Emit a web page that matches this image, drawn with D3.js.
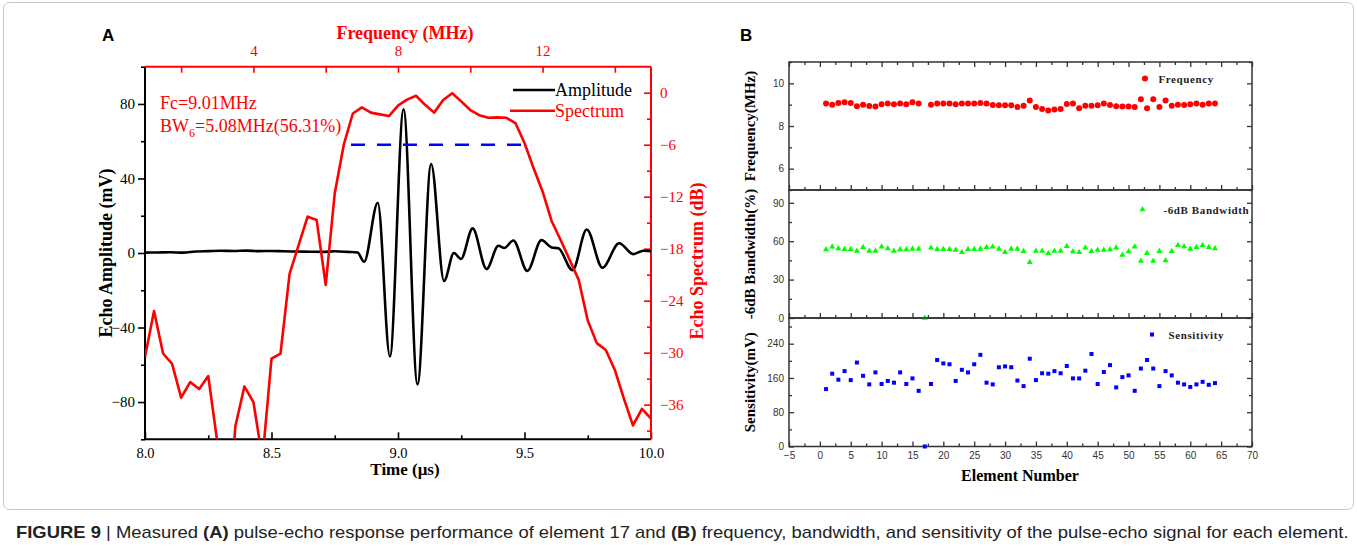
<!DOCTYPE html>
<html>
<head>
<meta charset="utf-8">
<script src="https://cdn.jsdelivr.net/npm/d3@7"></script>
<style>
  body { margin: 0; background: #fff; }
  svg { display: block; }
</style>
</head>
<body>
<script>
// ---- panel A data ----
let specFreq = [1, 1.25, 1.5, 1.75, 2, 2.25, 2.5, 2.75, 3, 3.25, 3.5, 3.75, 4, 4.25, 4.5, 4.75,
                5, 5.25, 5.5, 5.75, 6, 6.25, 6.5, 6.75, 7, 7.25, 7.5, 7.75, 8, 8.25, 8.5, 8.75,
                9, 9.25, 9.5, 9.75, 10, 10.25, 10.5, 10.75, 11, 11.25, 11.5, 11.75, 12, 12.25,
                12.5, 12.75, 13, 13.25, 13.5, 13.75, 14, 14.25, 14.5, 14.75, 15];
let specDb = [-30.5, -25.2, -30.1, -31.3, -35.2, -33.4, -34.2, -32.7, -40.3, -53, -38.5, -33.9,
              -35.7, -42.3, -30.7, -30.1, -20.9, -17.6, -14.3, -14.7, -22.2, -11.6, -6.0, -2.4,
              -1.7, -2.3, -2.5, -2.7, -1.5, -0.8, -0.35, -1.4, -2.3, -0.85, -0.07, -1.0, -2.0,
              -2.6, -2.9, -2.85, -2.9, -3.5, -5.8, -8.7, -11.4, -14.8, -17.0, -19.3, -21.6,
              -26.3, -28.9, -29.7, -32.0, -35.3, -38.4, -36.5, -37.6];

let echoTime = [8.0, 8.05, 8.1, 8.15, 8.2, 8.25, 8.3, 8.35, 8.4, 8.45, 8.5, 8.55, 8.6, 8.65, 8.7,
                8.75, 8.8, 8.84, 8.866, 8.92, 8.968, 9.022, 9.077, 9.131, 9.182, 9.221, 9.249,
                9.295, 9.35, 9.397, 9.42, 9.456, 9.511, 9.567, 9.607, 9.634, 9.69, 9.746, 9.808,
                9.874, 9.93, 9.97, 10.0];
let echoAmp = [0.2, 0.3, 0.4, 0.2, 0.8, 1.0, 1.2, 1.1, 1.3, 1.0, 1.1, 0.9, 0.8, 0.7, 0.6,
               0.9, 0.6, 0.3, -4.7, 27.0, -55.5, 77.2, -70.5, 47.8, -15.0, 0.0, -3.2,
               13.2, -8.6, 3.9, 2.7, 6.7, -9.6, 6.9, 3.0, 2.5, -9.2, 12.6, -7.9,
               5.2, -0.6, 1.2, 1.0];

let bwLine = [6.7, 11.5];   // -6 dB band edges (MHz)
let bwLevel = -6;

// ---- panel B data ----
let elements = [1, 2, 3, 4, 5, 6, 7, 8, 9, 10, 11, 12, 13, 14, 15, 16, 17, 18, 19, 20, 21, 22,
                23, 24, 25, 26, 27, 28, 29, 30, 31, 32, 33, 34, 35, 36, 37, 38, 39, 40, 41, 42,
                43, 44, 45, 46, 47, 48, 49, 50, 51, 52, 53, 54, 55, 56, 57, 58, 59, 60, 61, 62,
                63, 64];
let frequency = [9.06, 9.0, 9.08, 9.11, 9.08, 8.92, 9.0, 8.94, 8.91, 9.02, 9.05, 9.02, 9.06,
                 9.02, 9.11, 9.05, null, 9.0, 9.05, 9.05, 9.05, 9.02, 9.05, 9.05, 9.05, 9.08,
                 9.06, 8.98, 8.97, 8.97, 8.97, 8.89, 8.95, 9.2, 8.89, 8.8, 8.73, 8.77, 8.8, 9.03,
                 9.05, 8.83, 8.95, 8.95, 8.97, 9.06, 8.98, 8.92, 8.91, 8.91, 8.89, 9.25, 8.83,
                 9.25, 8.89, 9.2, 8.95, 9.0, 8.98, 9.02, 9.06, 9.0, 9.05, 9.05];
let bandwidth = [53.5, 55.6, 54.3, 53.7, 53.7, 52.4, 55.3, 52.4, 52.4, 55.6, 54.3, 52.4, 53.5,
                 53.5, 54.0, 54.0, 0, 54.8, 53.7, 53.7, 53.7, 53.2, 51.4, 53.7, 53.7, 54.0,
                 55.3, 55.6, 54.0, 51.4, 54.0, 54.0, 52.2, 43.6, 52.4, 52.4, 50.6, 52.4, 52.4,
                 56.1, 51.9, 51.4, 54.8, 52.2, 53.2, 53.2, 53.5, 54.8, 49.3, 51.9, 55.6, 44.6,
                 50.6, 44.6, 52.2, 44.9, 52.2, 56.9, 55.8, 54.0, 55.3, 56.9, 55.3, 54.3];
let sensitivity = [134, 170, 156, 176, 155, 196, 165, 145, 173, 146, 153, 149, 173, 146, 159,
                   130, 0, 146, 202, 194, 192, 153, 179, 173, 192, 214, 149, 145, 185, 187,
                   185, 154, 141, 205, 155, 171, 170, 176, 171, 188, 159, 159, 177, 216, 146,
                   174, 190, 138, 162, 166, 130, 182, 202, 182, 141, 176, 166, 149, 145, 139,
                   145, 151, 144, 148];

let W = 1357, H = 546;
let serif = '"Liberation Serif", "Times New Roman", serif';
let sans = '"Liberation Sans", Arial, sans-serif';

let svg = d3.select('body').append('svg')
            .attr('width', W)
            .attr('height', H)
            .attr('viewBox', `0 0 ${W} ${H}`);

svg.append('rect').attr('width', W).attr('height', H).attr('fill', '#fff');
svg.append('rect')
   .attr('x', 3.5).attr('y', 2.5).attr('width', W - 7).attr('height', 507)
   .attr('rx', 6).attr('fill', 'none').attr('stroke', '#c8c8c8').attr('stroke-width', 1);

// ================= Panel A =================
let A = { left: 145, right: 651, top: 66.7, bottom: 439.3 };

let xTime = d3.scaleLinear().domain([8, 10]).range([A.left, A.right]);
let xFreq = d3.scaleLinear().domain([1, 15]).range([A.left, A.right]);
let yAmp = d3.scaleLinear().domain([-100, 100]).range([A.bottom, A.top]);
let yDb = d3.scaleLinear().domain([-40, 3]).range([A.bottom, A.top]);

let gA = svg.append('g');

gA.append('clipPath').attr('id', 'clipA')
  .append('rect')
  .attr('x', A.left).attr('y', A.top)
  .attr('width', A.right - A.left).attr('height', A.bottom - A.top);

function styleAxis(g, color, size) {
  g.select('.domain').remove();
  g.selectAll('line').attr('stroke', color).attr('stroke-width', 1.6);
  g.selectAll('text').attr('fill', color).attr('font-family', serif).attr('font-size', size);
}

// bottom (time)
gA.append('g').attr('transform', `translate(0,${A.bottom})`)
  .call(d3.axisBottom(xTime).tickValues([8.25, 8.75, 9.25, 9.75]).tickSize(-4).tickFormat(''))
  .call(g => styleAxis(g, '#000', 15));
gA.append('g').attr('transform', `translate(0,${A.bottom})`)
  .call(d3.axisBottom(xTime).tickValues([8, 8.5, 9, 9.5, 10]).tickSize(-7).tickPadding(8)
          .tickFormat(d3.format('.1f')))
  .call(g => styleAxis(g, '#000', 14.5));

// left (amplitude)
gA.append('g').attr('transform', `translate(${A.left},0)`)
  .call(d3.axisLeft(yAmp).tickValues([-100, -60, -20, 20, 60, 100]).tickSize(4).tickFormat(''))
  .call(g => styleAxis(g, '#000', 15));
gA.append('g').attr('transform', `translate(${A.left},0)`)
  .call(d3.axisLeft(yAmp).tickValues([-80, -40, 0, 40, 80]).tickSize(7).tickPadding(3))
  .call(g => styleAxis(g, '#000', 15));

// top (frequency)
gA.append('g').attr('transform', `translate(0,${A.top})`)
  .call(d3.axisTop(xFreq).tickValues([2, 6, 10, 14]).tickSize(-6).tickFormat(''))
  .call(g => styleAxis(g, '#ff0000', 15));
gA.append('g').attr('transform', `translate(0,${A.top})`)
  .call(d3.axisTop(xFreq).tickValues([4, 8, 12]).tickSize(-6).tickPadding(11))
  .call(g => styleAxis(g, '#ff0000', 15));

// right (spectrum dB)
gA.append('g').attr('transform', `translate(${A.right},0)`)
  .call(d3.axisRight(yDb).tickValues([-39, -33, -27, -21, -15, -9, -3]).tickSize(-4).tickFormat(''))
  .call(g => styleAxis(g, '#ff0000', 15));
gA.append('g').attr('transform', `translate(${A.right},0)`)
  .call(d3.axisRight(yDb).tickValues([0, -6, -12, -18, -24, -30, -36]).tickSize(-7).tickPadding(9))
  .call(g => styleAxis(g, '#ff0000', 15));

// frame lines
gA.append('line').attr('x1', A.left).attr('x2', A.right).attr('y1', A.bottom).attr('y2', A.bottom)
  .attr('stroke', '#000').attr('stroke-width', 2);
gA.append('line').attr('x1', A.left).attr('x2', A.left).attr('y1', A.top).attr('y2', A.bottom)
  .attr('stroke', '#000').attr('stroke-width', 2);
gA.append('line').attr('x1', A.left).attr('x2', A.right).attr('y1', A.top).attr('y2', A.top)
  .attr('stroke', '#ff0000').attr('stroke-width', 2);
gA.append('line').attr('x1', A.right).attr('x2', A.right).attr('y1', A.top).attr('y2', A.bottom)
  .attr('stroke', '#ff0000').attr('stroke-width', 2);

let plotA = gA.append('g').attr('clip-path', 'url(#clipA)');

let echoLine = d3.line()
                 .x((d, i) => xTime(echoTime[i]))
                 .y((d) => yAmp(d))
                 .curve(d3.curveMonotoneX);
plotA.append('path').attr('d', echoLine(echoAmp))
     .attr('fill', 'none').attr('stroke', '#000').attr('stroke-width', 2.6)
     .attr('stroke-linejoin', 'round');

let specLine = d3.line()
                 .x((d, i) => xFreq(specFreq[i]))
                 .y((d) => yDb(d));
plotA.append('path').attr('d', specLine(specDb))
     .attr('fill', 'none').attr('stroke', '#ff0000').attr('stroke-width', 2.6)
     .attr('stroke-linejoin', 'round');

plotA.append('line')
     .attr('x1', xFreq(bwLine[0])).attr('x2', xFreq(bwLine[1]))
     .attr('y1', yDb(bwLevel)).attr('y2', yDb(bwLevel))
     .attr('stroke', '#0000ff').attr('stroke-width', 2.6).attr('stroke-dasharray', '14,12');

// legend
let legA = gA.append('g').attr('font-family', serif).attr('font-size', 18);
legA.append('line').attr('x1', 513).attr('x2', 555).attr('y1', 90).attr('y2', 90)
    .attr('stroke', '#000').attr('stroke-width', 2.6);
legA.append('text').attr('x', 555).attr('y', 96).attr('fill', '#000').text('Amplitude');
legA.append('line').attr('x1', 510).attr('x2', 555).attr('y1', 110.7).attr('y2', 110.7)
    .attr('stroke', '#ff0000').attr('stroke-width', 2.6);
legA.append('text').attr('x', 555).attr('y', 117).attr('fill', '#ff0000').text('Spectrum');

// annotation
let ann = gA.append('g').attr('font-family', serif).attr('font-size', 18).attr('fill', '#ff0000');
ann.append('text').attr('x', 160).attr('y', 108.5).text('Fc=9.01MHz');
let bwText = ann.append('text').attr('x', 160).attr('y', 131.5);
bwText.append('tspan').text('BW');
bwText.append('tspan').attr('font-size', 12).attr('dy', 5).text('6');
bwText.append('tspan').attr('dy', -5).text('=5.08MHz(56.31%)');

// axis titles
gA.append('text').attr('x', 405).attr('y', 475).attr('text-anchor', 'middle')
  .attr('font-family', serif).attr('font-size', 17).attr('font-weight', 'bold').text('Time (μs)');
gA.append('text').attr('x', 405).attr('y', 39).attr('text-anchor', 'middle')
  .attr('font-family', serif).attr('font-size', 18).attr('font-weight', 'bold')
  .attr('fill', '#ff0000').text('Frequency (MHz)');
gA.append('text').attr('transform', 'translate(112,253) rotate(-90)').attr('text-anchor', 'middle')
  .attr('font-family', serif).attr('font-size', 18).attr('font-weight', 'bold').text('Echo Amplitude (mV)');
gA.append('text').attr('transform', 'translate(703,261) rotate(-90)').attr('text-anchor', 'middle')
  .attr('font-family', serif).attr('font-size', 18).attr('font-weight', 'bold')
  .attr('fill', '#ff0000').text('Echo Spectrum (dB)');

svg.append('text').attr('x', 102).attr('y', 40.5).attr('font-family', sans)
   .attr('font-size', 17).attr('font-weight', 'bold').text('A');

// ================= Panel B =================
let B = { left: 789, right: 1252 };
let xEl = d3.scaleLinear().domain([-5, 70]).range([B.left, B.right]);
let gB = svg.append('g');

let subs = [
  { top: 62, bottom: 190, domain: [5, 11], major: [6, 8, 10], minor: [5, 7, 9, 11],
    values: frequency, color: '#ff0000', shape: 'circle', title: 'Frequency(MHz)',
    legend: 'Frequency', legX: 1145, legY: 78.5, legTX: 1158.5, topTicks: true },
  { top: 190, bottom: 318, domain: [0, 100], major: [0, 30, 60, 90], minor: [15, 45, 75],
    values: bandwidth, color: '#00ff00', shape: 'triangle', title: '-6dB Bandwidth(%)',
    legend: '-6dB Bandwidth', legX: 1142.5, legY: 209.5, legTX: 1163.5, topTicks: false },
  { top: 318, bottom: 446.5, domain: [0, 300], major: [0, 80, 160, 240], minor: [40, 120, 200, 280],
    values: sensitivity, color: '#0000ff', shape: 'square', title: 'Sensitivity(mV)',
    legend: 'Sensitivity', legX: 1152, legY: 334.5, legTX: 1168.5, topTicks: false }
];

let xMajor = [-5, 0, 5, 10, 15, 20, 25, 30, 35, 40, 45, 50, 55, 60, 65, 70];
let xMinor = [-2.5, 2.5, 7.5, 12.5, 17.5, 22.5, 27.5, 32.5, 37.5, 42.5, 47.5, 52.5, 57.5, 62.5, 67.5];

function styleB(g) {
  g.select('.domain').remove();
  g.selectAll('line').attr('stroke', '#333').attr('stroke-width', 1.3);
  g.selectAll('text').attr('fill', '#333').attr('font-family', sans).attr('font-size', 10);
}

function marker(sel, shape, color) {
  if (shape === 'circle') {
    sel.append('circle').attr('r', 3).attr('fill', color);
  } else if (shape === 'triangle') {
    sel.append('path').attr('d', d3.symbol().type(d3.symbolTriangle).size(16)).attr('fill', color);
  } else {
    sel.append('rect').attr('x', -2).attr('y', -2).attr('width', 4).attr('height', 4).attr('fill', color);
  }
}

subs.forEach((s, k) => {
  let y = d3.scaleLinear().domain(s.domain).range([s.bottom, s.top]);
  let last = k === subs.length - 1;

  // bottom ticks (inward)
  gB.append('g').attr('transform', `translate(0,${s.bottom})`)
    .call(d3.axisBottom(xEl).tickValues(xMinor).tickSize(-3).tickFormat(''))
    .call(styleB);
  gB.append('g').attr('transform', `translate(0,${s.bottom})`)
    .call(d3.axisBottom(xEl).tickValues(xMajor).tickSize(-5).tickPadding(last ? 5 : 0)
            .tickFormat(last ? d3.format('d') : ''))
    .call(styleB);
  if (s.topTicks) {
    gB.append('g').attr('transform', `translate(0,${s.top})`)
      .call(d3.axisTop(xEl).tickValues(xMinor).tickSize(-3).tickFormat(''))
      .call(styleB);
    gB.append('g').attr('transform', `translate(0,${s.top})`)
      .call(d3.axisTop(xEl).tickValues(xMajor).tickSize(-5).tickFormat(''))
      .call(styleB);
  }
  // left / right ticks (inward)
  gB.append('g').attr('transform', `translate(${B.left},0)`)
    .call(d3.axisLeft(y).tickValues(s.minor).tickSize(-3).tickFormat(''))
    .call(styleB);
  gB.append('g').attr('transform', `translate(${B.left},0)`)
    .call(d3.axisLeft(y).tickValues(s.major).tickSize(-5).tickPadding(5).tickFormat(d3.format('d')))
    .call(styleB);
  gB.append('g').attr('transform', `translate(${B.right},0)`)
    .call(d3.axisRight(y).tickValues(s.minor).tickSize(-3).tickFormat(''))
    .call(styleB);
  gB.append('g').attr('transform', `translate(${B.right},0)`)
    .call(d3.axisRight(y).tickValues(s.major).tickSize(-5).tickFormat(''))
    .call(styleB);

  gB.append('rect').attr('x', B.left).attr('y', s.top)
    .attr('width', B.right - B.left).attr('height', s.bottom - s.top)
    .attr('fill', 'none').attr('stroke', '#333').attr('stroke-width', 1.5);

  // points
  gB.append('g').selectAll('g')
    .data(elements.filter((d, i) => s.values[i] !== null && s.values[i] >= s.domain[0] && s.values[i] <= s.domain[1]))
    .enter()
    .append('g')
    .attr('transform', (d) => `translate(${xEl(d)},${y(s.values[d - 1])})`)
    .each(function() { marker(d3.select(this), s.shape, s.color); });

  // legend
  let lg = gB.append('g').attr('transform', `translate(${s.legX},${s.legY})`);
  marker(lg, s.shape, s.color);
  gB.append('text').attr('x', s.legTX).attr('y', s.legY + 4)
    .attr('font-family', serif).attr('font-size', 11).attr('font-weight', 'bold')
    .attr('letter-spacing', 0.6).attr('fill', '#222').text(s.legend);

  // y title
  gB.append('text').attr('transform', `translate(755,${(s.top + s.bottom) / 2}) rotate(-90)`)
    .attr('text-anchor', 'middle').attr('font-family', serif).attr('font-size', 15)
    .attr('font-weight', 'bold').text(s.title);
});

gB.append('text').attr('x', 1020).attr('y', 481).attr('text-anchor', 'middle')
  .attr('font-family', serif).attr('font-size', 16).attr('font-weight', 'bold').text('Element Number');

svg.append('text').attr('x', 740).attr('y', 40.5).attr('font-family', sans)
   .attr('font-size', 17).attr('font-weight', 'bold').text('B');

// ================= Caption =================
let capG = svg.append('g');
let cap = capG.append('text').attr('x', 0).attr('y', 0)
              .attr('font-family', sans).attr('font-size', 16).attr('fill', '#222');
cap.append('tspan').attr('font-weight', 'bold').text('FIGURE 9');
cap.append('tspan').text(' | Measured ');
cap.append('tspan').attr('font-weight', 'bold').text('(A)');
cap.append('tspan').text(' pulse-echo response performance of element 17 and ');
cap.append('tspan').attr('font-weight', 'bold').text('(B)');
cap.append('tspan').text(' frequency, bandwidth, and sensitivity of the pulse-echo signal for each element.');
let capLen = cap.node().getComputedTextLength();
capG.attr('transform', `translate(16,538) scale(${1333 / capLen},1)`);
</script>
</body>
</html>
